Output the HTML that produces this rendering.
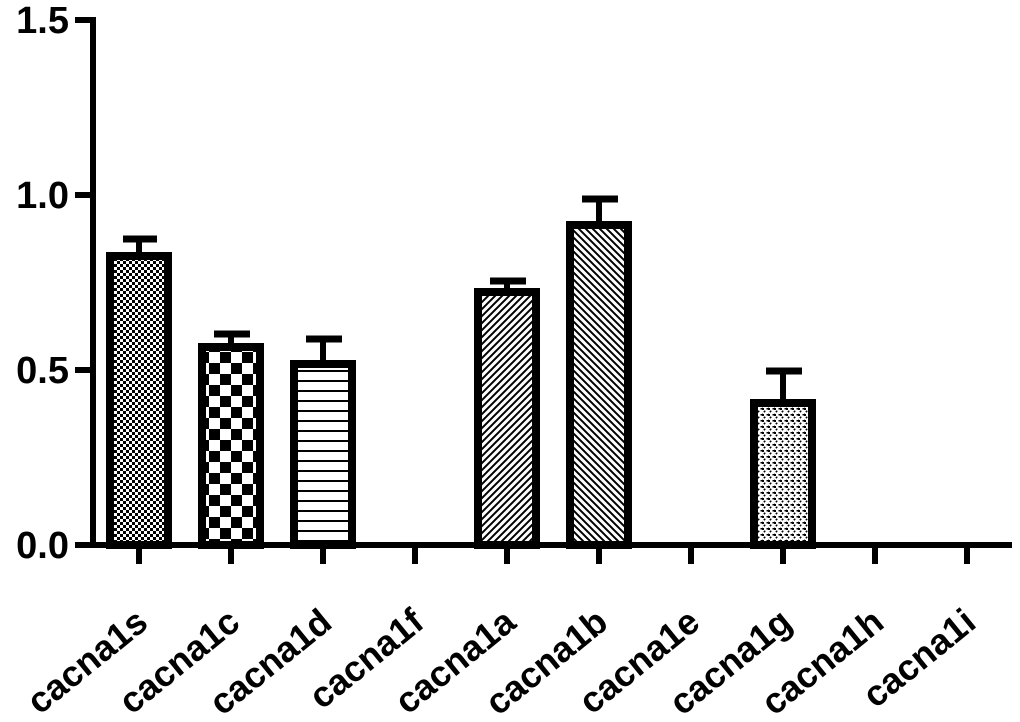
<!DOCTYPE html>
<html><head><meta charset="utf-8"><style>
html,body{margin:0;padding:0;background:#fff;}
svg{display:block;}
text{font-family:"Liberation Sans",Arial,sans-serif;font-weight:bold;fill:#000;}
</style></head><body>
<svg width="1020" height="722" viewBox="0 0 1020 722" xmlns="http://www.w3.org/2000/svg">
<defs>
<pattern id="p1" width="6" height="6" patternUnits="userSpaceOnUse">
<rect width="6" height="6" fill="#fff"/><rect width="3" height="3" fill="#000"/><rect x="3" y="3" width="3" height="3" fill="#000"/>
</pattern>
<pattern id="p2" width="22" height="22" patternUnits="userSpaceOnUse" x="0" y="0">
<rect width="22" height="22" fill="#fff"/><rect width="11" height="11" fill="#000"/><rect x="11" y="11" width="11" height="11" fill="#000"/>
</pattern>
<pattern id="p3" width="10" height="10" patternUnits="userSpaceOnUse">
<rect width="10" height="10" fill="#fff"/><rect y="0" width="10" height="2" fill="#000"/>
</pattern>
<pattern id="p4" width="7" height="7" patternUnits="userSpaceOnUse">
<rect width="7" height="7" fill="#fff"/><path d="M-1,8 L8,-1 M-4,4 L4,-4 M3,11 L11,3" stroke="#000" stroke-width="2"/>
</pattern>
<pattern id="p5" width="7" height="7" patternUnits="userSpaceOnUse">
<rect width="7" height="7" fill="#fff"/><path d="M-1,-1 L8,8 M-4,3 L4,11 M3,-4 L11,4" stroke="#000" stroke-width="2"/>
</pattern>
<pattern id="p6" width="6" height="6" patternUnits="userSpaceOnUse">
<rect width="6" height="6" fill="#fff"/><path d="M-1,7 L7,-1" stroke="#000" stroke-width="1.5" stroke-dasharray="2,2"/><rect x="0" y="0" width="2" height="2" fill="#000"/>
</pattern>
</defs>

<line x1="93" y1="17" x2="93" y2="548" stroke="#000" stroke-width="6"/>
<line x1="90" y1="545" x2="1012" y2="545" stroke="#000" stroke-width="6"/>
<g stroke="#000" stroke-width="6">
<line x1="75" y1="20" x2="93" y2="20"/>
<line x1="75" y1="195" x2="93" y2="195"/>
<line x1="75" y1="370" x2="93" y2="370"/>
<line x1="75" y1="545" x2="93" y2="545"/>
<line x1="139" y1="545" x2="139" y2="564"/>
<line x1="231" y1="545" x2="231" y2="564"/>
<line x1="323" y1="545" x2="323" y2="564"/>
<line x1="415" y1="545" x2="415" y2="564"/>
<line x1="507" y1="545" x2="507" y2="564"/>
<line x1="599" y1="545" x2="599" y2="564"/>
<line x1="691" y1="545" x2="691" y2="564"/>
<line x1="783" y1="545" x2="783" y2="564"/>
<line x1="875" y1="545" x2="875" y2="564"/>
<line x1="967" y1="545" x2="967" y2="564"/>
</g>
<g font-size="38" text-anchor="end">
<text x="69" y="33">1.5</text>
<text x="69" y="208">1.0</text>
<text x="69" y="383">0.5</text>
<text x="69" y="558">0.0</text>
</g>

<g stroke="#000" stroke-width="6">
<line x1="139" y1="239" x2="139" y2="256"/><line x1="123" y1="239" x2="157" y2="239" stroke-width="7"/>
<line x1="231" y1="334" x2="231" y2="347"/><line x1="214" y1="334" x2="250" y2="334" stroke-width="7"/>
<line x1="323" y1="339" x2="323" y2="364"/><line x1="306" y1="339" x2="342" y2="339" stroke-width="7"/>
<line x1="507" y1="281" x2="507" y2="292"/><line x1="490" y1="281" x2="526" y2="281" stroke-width="7"/>
<line x1="599" y1="199" x2="599" y2="225"/><line x1="582" y1="199" x2="618" y2="199" stroke-width="7"/>
<line x1="783" y1="371" x2="783" y2="403"/><line x1="766" y1="371" x2="802" y2="371" stroke-width="7"/>
</g>

<g stroke="#000" stroke-width="8">
<rect x="110" y="256" width="58" height="289" fill="url(#p1)"/>
<rect x="202" y="347" width="58" height="198" fill="url(#p2)"/>
<rect x="294" y="364" width="58" height="181" fill="url(#p3)"/>
<rect x="478" y="292" width="58" height="253" fill="url(#p4)"/>
<rect x="570" y="225" width="58" height="320" fill="url(#p5)"/>
<rect x="754" y="403" width="58" height="142" fill="url(#p6)"/>
</g>

<g font-size="36" text-anchor="end">
<text transform="translate(150,626) rotate(-39)">cacna1s</text>
<text transform="translate(242,626) rotate(-39)">cacna1c</text>
<text transform="translate(334,626) rotate(-39)">cacna1d</text>
<text transform="translate(426,626) rotate(-39)">cacna1f</text>
<text transform="translate(518,626) rotate(-39)">cacna1a</text>
<text transform="translate(610,626) rotate(-39)">cacna1b</text>
<text transform="translate(702,626) rotate(-39)">cacna1e</text>
<text transform="translate(794,626) rotate(-39)">cacna1g</text>
<text transform="translate(886,626) rotate(-39)">cacna1h</text>
<text transform="translate(978,626) rotate(-39)">cacna1i</text>
</g>
</svg>
</body></html>
